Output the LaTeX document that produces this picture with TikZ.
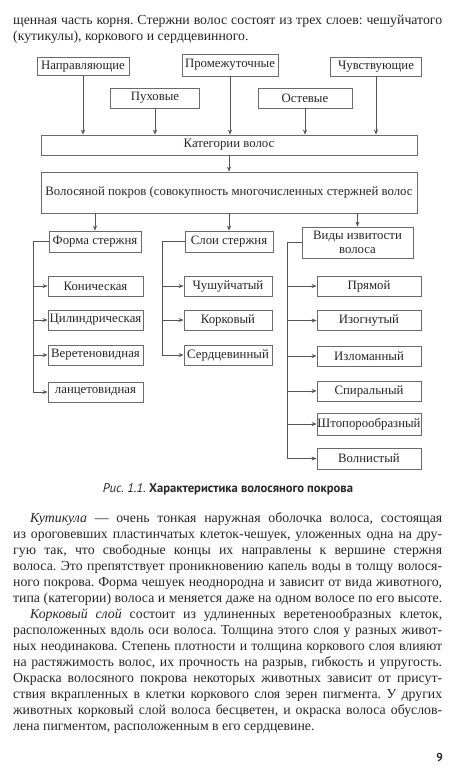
\documentclass[tikz,border=0pt]{standalone}
\usepackage{fontspec}
\setmainfont{Liberation Serif}
\newfontfamily\capfont{PT Sans}
\usetikzlibrary{arrows.meta}
\definecolor{boxgray}{HTML}{6A6A6A}
\definecolor{linegray}{HTML}{555555}
\definecolor{txt}{HTML}{262626}
\frenchspacing
\begin{document}
\begin{tikzpicture}[x=1pt,y=-1pt,
  box/.style={draw=boxgray, line width=0.8pt, fill=white, inner sep=0pt, minimum height=20pt, text=txt, font=\fontsize{12.8}{14.5}\selectfont, align=center},
  conn/.style={draw=linegray, line width=0.7pt},
  arr/.style={conn, -{Stealth[length=5pt,width=4pt]}},
  bodyline/.style={anchor=base west, inner sep=0pt, text=txt, font=\fontsize{13.8}{16}\selectfont}
]
\useasboundingbox[fill=white] (0,0) rectangle (460,772);

% top paragraph
\node[bodyline] (t1) at (13,24) {\makebox[429pt][s]{щенная часть корня. Стержни волос состоят из трех слоев: чешуйчатого}};
\node[bodyline] (t2) at (13,40) {(кутикулы), коркового и сердцевинного.};

% top boxes
\node[box, minimum width=92pt, minimum height=18pt] (nap) at (83,66.5) {Направляющие};
\node[box, minimum width=96pt, minimum height=22pt] (prom) at (230,65) {Промежуточные};
\node[box, minimum width=91pt, minimum height=19pt] (chuv) at (376,66.5) {Чувствующие};
\node[box, minimum width=89pt] (pux) at (155,98) {Пуховые};
\node[box, minimum width=94pt] (ost) at (305,98) {Остевые};
\node[box, minimum width=376pt] (kat) at (229,145) {Категории волос};
\node[box, minimum width=376pt, minimum height=41pt] (vol) at (229,192.5) {Волосяной покров (совокупность многочисленных стержней волос};

\foreach \n in {nap,prom,chuv,pux,ost}
  \draw[arr] (\n.south) -- (\n.south |- kat.north);
\draw[arr] (kat.south) -- (vol.north);

% second level
\node[box, minimum width=92pt, minimum height=21pt] (forma) at (95,241.5) {Форма стержня};
\node[box, minimum width=88pt, minimum height=21pt] (sloi) at (229,241.5) {Слои стержня};
\node[box, minimum width=111pt, minimum height=31pt] (vidy) at (357.5,242.5) {Виды извитости\\волоса};
\foreach \n in {forma,sloi,vidy}
  \draw[arr] (\n.north |- vol.south) -- (\n.north);

% left column
\node[box, minimum width=95pt] (kon) at (95.5,286) {Коническая};
\node[box, minimum width=95pt] (cil) at (95.5,320) {Цилиндрическая};
\node[box, minimum width=95pt] (ver) at (95.5,355) {Веретеновидная};
\node[box, minimum width=95pt] (lan) at (95.5,392) {ланцетовидная};
\draw[arr] (forma.west) -- ++(-15,0) coordinate (s1) |- (lan.west);
\foreach \n in {kon,cil,ver}
  \draw[arr] (s1 |- \n.west) -- (\n.west);

% middle column
\node[box, minimum width=88pt] (chesh) at (228,286) {Чушуйчатый};
\node[box, minimum width=88pt] (kork) at (228,320) {Корковый};
\node[box, minimum width=88pt] (serd) at (228,355) {Сердцевинный};
\draw[arr] (sloi.west) -- ++(-22,0) coordinate (s2) |- (serd.west);
\foreach \n in {chesh,kork}
  \draw[arr] (s2 |- \n.west) -- (\n.west);

% right column
\node[box, minimum width=104pt] (pr) at (369,286) {Прямой};
\node[box, minimum width=104pt] (izog) at (369,320.5) {Изогнутый};
\node[box, minimum width=104pt] (izlom) at (369,356) {Изломанный};
\node[box, minimum width=104pt] (spir) at (369,391) {Спиральный};
\node[box, minimum width=104pt, minimum height=22pt] (shtop) at (369,424) {Штопорообразный};
\node[box, minimum width=104pt, minimum height=21pt] (voln) at (369,458.5) {Волнистый};
\draw[arr] (vidy.west) -- ++(-14,0) coordinate (s3) |- (voln.west);
\foreach \n in {pr,izog,izlom,spir,shtop}
  \draw[arr] (s3 |- \n.west) -- (\n.west);

% caption
\node[anchor=base, inner sep=0pt, text=txt, font=\capfont\fontsize{12.6}{15}\selectfont] (cap) at (228,492) {\textit{Рис. 1.1.} \textbf{Характеристика волосяного покрова}};

% bottom text
\node[bodyline] (b1) at (30,522) {\makebox[412pt][s]{\textit{Кутикула} — очень тонкая наружная оболочка волоса, состоящая}};
\node[bodyline] (b2) at (13,538) {\makebox[429pt][s]{из ороговевших пластинчатых клеток-чешуек, уложенных одна на дру-}};
\node[bodyline] (b3) at (13,554) {\makebox[429pt][s]{гую так, что свободные концы их направлены к вершине стержня}};
\node[bodyline] (b4) at (13,570) {\makebox[429pt][s]{волоса. Это препятствует проникновению капель воды в толщу волося-}};
\node[bodyline] (b5) at (13,586) {\makebox[429pt][s]{ного покрова. Форма чешуек неоднородна и зависит от вида животного,}};
\node[bodyline] (b6) at (13,602) {\makebox[429pt][s]{типа (категории) волоса и меняется даже на одном волосе по его высоте.}};
\node[bodyline] (b7) at (30,618) {\makebox[412pt][s]{\textit{Корковый слой} состоит из удлиненных веретенообразных клеток,}};
\node[bodyline] (b8) at (13,634) {\makebox[429pt][s]{расположенных вдоль оси волоса. Толщина этого слоя у разных живот-}};
\node[bodyline] (b9) at (13,650) {\makebox[429pt][s]{ных неодинакова. Степень плотности и толщина коркового слоя влияют}};
\node[bodyline] (b10) at (13,666) {\makebox[429pt][s]{на растяжимость волос, их прочность на разрыв, гибкость и упругость.}};
\node[bodyline] (b11) at (13,682) {\makebox[429pt][s]{Окраска волосяного покрова некоторых животных зависит от присут-}};
\node[bodyline] (b12) at (13,698) {\makebox[429pt][s]{ствия вкрапленных в клетки коркового слоя зерен пигмента. У других}};
\node[bodyline] (b13) at (13,714) {\makebox[429pt][s]{животных корковый слой волоса бесцветен, и окраска волоса обуслов-}};
\node[bodyline] (b14) at (13,730) {лена пигментом, расположенным в его сердцевине.};

\node[anchor=base east, inner sep=0pt, text=txt, font=\capfont\bfseries\fontsize{11.5}{13}\selectfont] (pg) at (443,761) {9};
\end{tikzpicture}
\end{document}
